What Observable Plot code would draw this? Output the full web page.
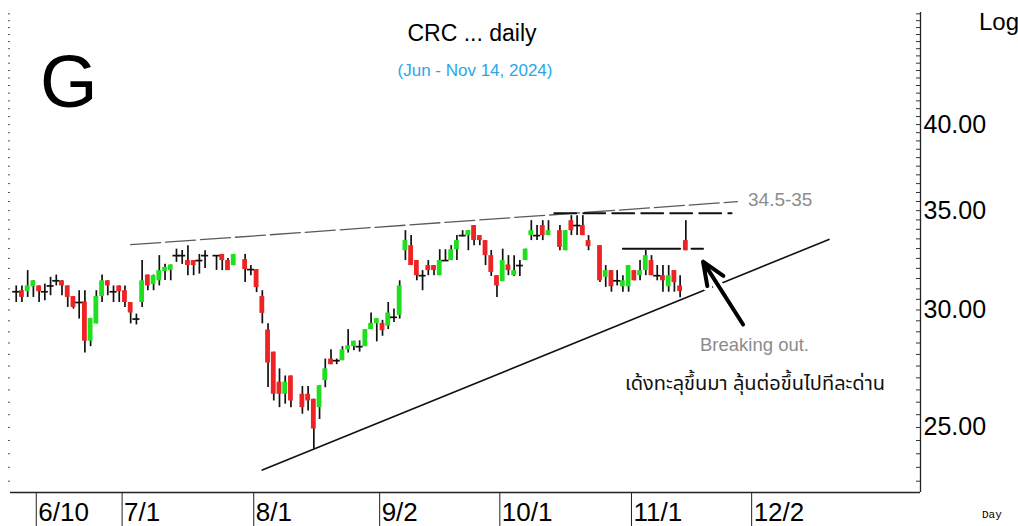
<!DOCTYPE html>
<html>
<head>
<meta charset="utf-8">
<script src="https://cdn.jsdelivr.net/npm/d3@7"></script>
<script src="https://cdn.jsdelivr.net/npm/@observablehq/plot@0.6"></script>
<style>
  html, body { margin: 0; padding: 0; background: #fff; }
  #wrap { position: relative; width: 1018px; height: 526px; overflow: hidden; background: #fff; }
  #wrap svg { position: absolute; left: 0; top: 0; }
  .t { position: absolute; white-space: nowrap; line-height: 1; font-family: "Liberation Sans", Arial, sans-serif; }
</style>
</head>
<body>
<div id="wrap">
  <div class="t" style="left:472px; top:21.5px; font-size:23px; color:#000; transform:translateX(-50%);">CRC ... daily</div>
  <div class="t" style="left:475px; top:61.6px; font-size:17px; color:#2ba6e6; transform:translateX(-50%);">(Jun - Nov 14, 2024)</div>
  <div class="t" style="left:40px; top:45.4px; font-size:74px; color:#000;">G</div>
  <div class="t" style="left:748px; top:190px; font-size:19px; color:#8c8c8c;">34.5-35</div>
  <div class="t" style="left:700px; top:336.3px; font-size:18.5px; color:#8c8c8c;">Breaking out.</div>
  <div class="t" style="left:625px; top:374px; font-size:20px; color:#111; font-family:'Noto Sans Thai','Tahoma','DejaVu Sans',sans-serif;">เด้งทะลุขึ้นมา ลุ้นต่อขึ้นไปทีละด่าน</div>
  <div class="t" style="left:979px; top:9.7px; font-size:24px; color:#000;">Log</div>
  <div class="t" style="left:982px; top:510px; font-size:11px; color:#000; font-family:'Liberation Mono','Courier New',monospace;">Day</div>
</div>
<script>
// ---------- data ----------
const year = 2024;
const dates = [
  "06-04","06-05","06-06","06-07","06-10","06-11","06-12","06-13","06-14","06-17",
  "06-18","06-19","06-20","06-21","06-24","06-25","06-26","06-27","06-28",
  "07-01","07-02","07-03","07-04","07-05","07-08","07-09","07-10","07-11","07-12",
  "07-15","07-16","07-17","07-18","07-19","07-23","07-24","07-25","07-26","07-30","07-31",
  "08-01","08-02","08-05","08-06","08-07","08-08","08-09","08-13","08-14","08-15",
  "08-16","08-19","08-20","08-21","08-22","08-23","08-26","08-27","08-28","08-29","08-30",
  "09-02","09-03","09-04","09-05","09-06","09-09","09-10","09-11","09-12","09-13",
  "09-16","09-17","09-18","09-19","09-20","09-23","09-24","09-25","09-26","09-27","09-30",
  "10-01","10-02","10-03","10-04","10-07","10-08","10-09","10-10","10-11","10-15",
  "10-16","10-17","10-18","10-21","10-22","10-24","10-25","10-28","10-29","10-30","10-31",
  "11-01","11-04","11-05","11-06","11-07","11-08","11-11","11-12","11-13","11-14"
];
const open = [
  30.86,30.91,30.86,31.10,31.14,30.86,31.14,31.39,31.39,31.14,
  30.63,30.35,30.38,28.58,29.36,30.63,31.39,30.86,31.14,
  30.91,30.35,29.58,30.35,31.67,31.20,31.39,31.85,31.89,32.64,
  32.64,32.39,32.39,32.39,32.64,32.64,32.70,32.39,32.14,32.44,31.94,
  31.94,30.63,29.08,28.10,26.82,26.32,27.08,26.32,26.32,26.12,
  25.78,26.88,27.80,27.73,27.73,28.20,28.34,28.34,28.34,29.10,29.36,
  29.38,29.25,29.66,29.75,32.89,33.15,32.39,31.64,32.14,32.14,
  31.64,32.39,32.39,32.94,33.67,33.67,34.20,33.67,33.41,32.64,31.64,
  31.35,32.17,31.64,32.14,32.39,33.67,33.67,34.20,33.67,33.93,
  32.89,34.46,34.20,34.20,33.41,33.15,31.56,31.89,31.39,31.10,31.10,
  31.89,31.64,31.89,32.39,31.64,31.64,31.10,31.89,31.14,33.41
];
const high = [
  31.14,31.14,31.89,31.39,31.14,31.23,31.56,31.67,31.39,31.14,
  30.63,30.91,30.91,29.61,30.91,31.67,31.39,31.14,31.14,
  31.14,30.35,29.81,32.39,31.67,31.67,32.64,32.20,32.17,32.97,
  32.90,33.15,32.39,32.70,32.89,32.64,32.70,32.50,32.70,32.70,32.14,
  31.94,30.91,29.36,28.10,27.38,27.08,27.08,26.64,26.64,26.12,
  26.67,27.80,28.20,27.80,28.34,29.10,28.58,28.60,29.10,29.86,29.60,
  29.52,30.35,30.04,31.39,33.93,33.67,32.39,31.89,32.39,32.14,
  32.94,32.94,33.15,33.67,33.93,33.93,34.20,33.67,33.41,32.90,31.64,
  32.97,32.64,32.64,32.39,32.97,34.46,34.20,34.46,34.46,34.20,
  33.93,34.73,34.73,34.73,33.67,33.15,32.14,31.89,31.89,31.64,32.14,
  31.89,32.39,32.90,32.64,32.14,32.14,32.14,31.89,31.64,34.46
];
const low = [
  30.35,30.35,30.59,30.59,30.35,30.43,30.67,31.14,30.67,30.12,
  30.04,29.58,28.06,28.34,29.36,30.35,30.67,30.35,30.35,
  30.12,29.36,29.31,30.12,30.91,30.91,31.14,31.40,31.39,32.30,
  32.20,31.64,31.64,31.72,32.00,31.90,31.89,31.89,32.14,31.31,31.64,
  30.82,29.36,26.60,26.05,25.78,25.92,25.78,25.52,25.65,24.17,
  25.31,26.59,27.56,27.56,27.73,28.06,28.16,28.10,28.34,29.10,28.55,
  28.80,29.10,29.42,29.58,32.39,32.14,31.39,30.91,31.64,31.64,
  31.64,32.39,32.39,32.39,33.60,32.89,33.15,33.15,32.14,31.60,30.59,
  31.35,31.64,31.60,31.60,32.39,33.41,33.41,33.41,33.67,32.89,
  32.89,33.67,33.67,33.67,32.89,31.31,31.07,30.84,31.14,30.84,30.84,
  31.39,31.39,31.64,31.64,31.39,30.84,30.84,30.84,30.58,32.89
];
const close = [
  30.86,30.59,31.14,31.39,30.86,30.86,31.14,31.39,31.14,30.59,
  30.12,30.35,28.58,29.61,30.63,31.39,31.14,30.86,30.86,
  30.35,29.86,29.58,31.39,31.14,31.64,31.89,32.05,32.17,32.64,
  32.64,32.14,32.14,32.39,32.64,32.64,32.39,31.89,32.70,31.94,31.94,
  31.06,29.84,27.63,26.32,26.32,26.82,26.05,25.78,26.05,24.94,
  26.67,27.38,27.56,27.73,28.20,28.38,28.58,28.34,29.10,29.38,29.60,
  29.05,29.86,29.66,31.14,33.41,32.14,31.64,31.64,31.89,31.89,
  32.39,32.39,32.94,33.41,33.67,33.93,33.41,33.41,32.64,31.80,31.14,
  32.39,31.89,31.89,32.14,32.97,33.93,33.67,33.67,33.93,33.06,
  33.93,33.93,34.20,33.67,33.10,31.39,31.89,31.10,31.39,31.39,32.14,
  31.39,31.89,32.64,31.64,31.64,31.39,31.64,31.30,30.87,32.89
];

// axis ticks
const tickDates = ["06-10","07-01","08-01","09-02","10-01","11-01","12-02"];
const tickLabels = ["6/10","7/1","8/1","9/2","10/1","11/1","12/2"];
const yTickValues = [25, 30, 35, 40];

// annotation lines (date, price)
const upperTrendDates = ["07-02","11-27"];
const upperTrendPrices = [33.2, 35.49];
const resistDates = ["10-14","11-26"];
const resistPrices = [34.86, 34.86];
const breakDatesA = ["10-30","11-13"];
const breakDatesB = ["11-15","11-19"];
const breakPrice = 32.99;
const lowerTrendDates = ["08-02","12-19"];
const lowerTrendPrices = [23.40, 33.47];
const arrowDates = ["11-28","11-19"];
const arrowPrices = [29.33, 32.34];

// ---------- helpers ----------
const origin = Date.UTC(2024, 5, 3); // Monday, start of the weekday axis
function dayIndex(md) {
  const [m, d] = md.split("-").map(Number);
  const days = Math.round((Date.UTC(year, m - 1, d) - origin) / 864e5);
  return Math.floor(days / 7) * 5 + (days % 7);
}

const candles = dates.map((d, k) => ({i: dayIndex(d), o: open[k], h: high[k], l: low[k], c: close[k]}));
const ups = candles.filter(d => d.c > d.o);
const downs = candles.filter(d => d.c < d.o);
const dojis = candles.filter(d => d.c === d.o);

const xDomain = [0, 159];
const yDomain = [22.6, 47.6];
const tickIdx = tickDates.map(d => dayIndex(d) - 0.5);
const tickLab = new Map(tickIdx.map((t, k) => [t, tickLabels[k]]));
const minorTicks = d3.range(23, 47.6, 0.5);

const seg = (ds, ps) => ds.map((d, k) => ({x: dayIndex(d), y: ps[k]}));
const upperTrend = seg(upperTrendDates, upperTrendPrices);
const resist = seg(resistDates, resistPrices);
const breakA = seg(breakDatesA, [breakPrice, breakPrice]);
const breakB = seg(breakDatesB, [breakPrice, breakPrice]);
const lowerTrend = seg(lowerTrendDates, lowerTrendPrices);
const arrow = [{x1: dayIndex(arrowDates[0]), y1: arrowPrices[0], x2: dayIndex(arrowDates[1]), y2: arrowPrices[1]}];

const GREEN = "#1fe01f", RED = "#ee2424";

const chart = Plot.plot({
  width: 1018,
  height: 526,
  marginLeft: 10,
  marginRight: 98,
  marginTop: 12,
  marginBottom: 34,
  style: {background: "transparent", fontFamily: "Liberation Sans, Arial, sans-serif", overflow: "visible"},
  x: {domain: xDomain, axis: null},
  y: {type: "log", domain: yDomain, axis: null},
  marks: [
    // frame: bottom and right
    Plot.ruleY([yDomain[0]], {stroke: "#222", strokeWidth: 1.3}),
    Plot.ruleX([xDomain[1]], {stroke: "#222", strokeWidth: 1.3}),
    // minor ticks on right (inside) and left edge
    Plot.ruleY(minorTicks, {x1: xDomain[1] - 0.7, x2: xDomain[1], stroke: "#333", strokeWidth: 1}),
    Plot.ruleY(minorTicks, {x1: xDomain[0] - 0.35, x2: xDomain[0], stroke: "#555", strokeWidth: 1}),
    // right axis labels
    Plot.axisY(yTickValues, {anchor: "right", tickSize: 0, tickPadding: 3, tickFormat: d => d.toFixed(2), fontSize: 25, fill: "#000"}),
    // bottom axis: separators (ticks) below the frame
    Plot.axisX(tickIdx, {anchor: "bottom", tickSize: 34, text: null, stroke: "#222"}),
    // bottom axis: labels to the right of each separator
    Plot.axisX(tickIdx, {anchor: "bottom", tickSize: 0, tickPadding: 10, dx: 2, textAnchor: "start", tickFormat: d => tickLab.get(d), fontSize: 26, fill: "#000"}),
    // annotation lines
    Plot.line(upperTrend, {x: "x", y: "y", stroke: "#5a5a5a", strokeWidth: 1.3, strokeDasharray: "30,5"}),
    Plot.line(resist, {x: "x", y: "y", stroke: "#111", strokeWidth: 1.8, strokeDasharray: "22,7"}),
    Plot.line(lowerTrend, {x: "x", y: "y", stroke: "#111", strokeWidth: 1.6}),
    Plot.line(breakA, {x: "x", y: "y", stroke: "#111", strokeWidth: 2}),
    Plot.line(breakB, {x: "x", y: "y", stroke: "#111", strokeWidth: 2}),
    // candles
    Plot.ruleX(candles, {x: "i", y1: "l", y2: "h", stroke: "#111", strokeWidth: 1.7}),
    Plot.rect(ups, {x1: d => d.i - 0.42, x2: d => d.i + 0.42, y1: "o", y2: "c", fill: GREEN}),
    Plot.rect(downs, {x1: d => d.i - 0.42, x2: d => d.i + 0.42, y1: "o", y2: "c", fill: RED}),
    Plot.ruleY(dojis, {y: "c", x1: d => d.i - 0.62, x2: d => d.i + 0.62, stroke: "#111", strokeWidth: 1.7}),
    // arrow with white halo
    Plot.arrow(arrow, {x1: "x1", y1: "y1", x2: "x2", y2: "y2", stroke: "#fff", strokeWidth: 10, headLength: 4, headAngle: 45}),
    Plot.arrow(arrow, {x1: "x1", y1: "y1", x2: "x2", y2: "y2", stroke: "#000", strokeWidth: 4, headLength: 10, headAngle: 45})
  ]
});

document.getElementById("wrap").prepend(chart);
</script>
</body>
</html>
